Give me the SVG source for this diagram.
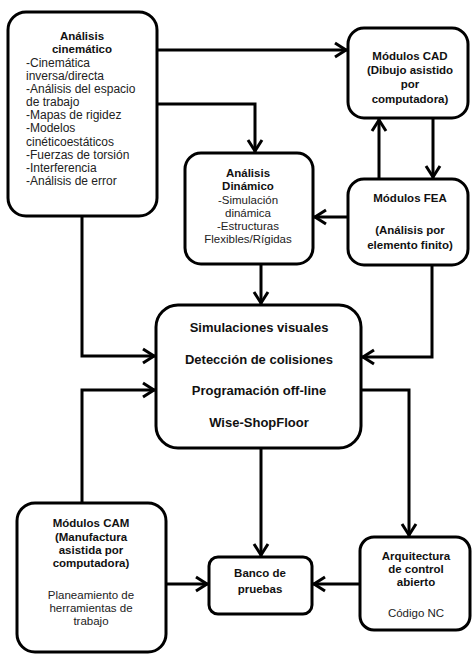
<svg xmlns="http://www.w3.org/2000/svg" width="472" height="656" viewBox="0 0 472 656">
<style>
.box{fill:#fff;stroke:#000;stroke-width:3}
.t{font-family:"Liberation Sans",Arial,sans-serif;font-size:11.5px;fill:#222;text-anchor:middle}
.tl{font-family:"Liberation Sans",Arial,sans-serif;font-size:12px;fill:#222}
.b{font-weight:bold;fill:#111}
.big{font-family:"Liberation Sans",Arial,sans-serif;font-size:13px;font-weight:bold;fill:#111;text-anchor:middle}
.c{fill:none;stroke:#000;stroke-width:3;stroke-linejoin:miter}
</style>
<defs>
<marker id="ah" viewBox="-14 -9 16 18" markerWidth="16" markerHeight="18" refX="0" refY="0" orient="auto" markerUnits="userSpaceOnUse">
<path d="M-12,-7 L-1,0 L-12,7" fill="none" stroke="#000" stroke-width="3"/>
</marker>
</defs>
<rect width="472" height="656" fill="#fff"/>
<g id="connectors">
<path class="c" d="M157,50 H347" marker-end="url(#ah)"/>
<path class="c" d="M157,104 H255 V152" marker-end="url(#ah)"/>
<path class="c" d="M82,216 V356 H155" marker-end="url(#ah)"/>
<path class="c" d="M82,503 V390 H155" marker-end="url(#ah)"/>
<path class="c" d="M379,179 V119" marker-end="url(#ah)"/>
<path class="c" d="M433,118 V178" marker-end="url(#ah)"/>
<path class="c" d="M348,217 H314" marker-end="url(#ah)"/>
<path class="c" d="M432,265 V357 H362" marker-end="url(#ah)"/>
<path class="c" d="M261,264 V304" marker-end="url(#ah)"/>
<path class="c" d="M361,390 H409 V536" marker-end="url(#ah)"/>
<path class="c" d="M261,448 V556" marker-end="url(#ah)"/>
<path class="c" d="M360,584 H313" marker-end="url(#ah)"/>
<path class="c" d="M166,584 H208" marker-end="url(#ah)"/>
</g>
<g id="cinematico">
<rect class="box" x="8" y="12" width="149" height="204" rx="18"/>
<text class="t b" x="82" y="40">Análisis</text>
<text class="t b" x="82" y="53">cinemático</text>
<text class="tl" x="26" y="67">-Cinemática</text>
<text class="tl" x="26" y="80">inversa/directa</text>
<text class="tl" x="26" y="93">-Análisis del espacio</text>
<text class="tl" x="26" y="106">de trabajo</text>
<text class="tl" x="26" y="119">-Mapas de rigidez</text>
<text class="tl" x="26" y="132">-Modelos</text>
<text class="tl" x="26" y="146">cinéticoestáticos</text>
<text class="tl" x="26" y="159">-Fuerzas de torsión</text>
<text class="tl" x="26" y="172">-Interferencia</text>
<text class="tl" x="26" y="185">-Análisis de error</text>
</g>
<g id="cad">
<rect class="box" x="348" y="28" width="120" height="90" rx="16"/>
<text class="t b" x="410" y="60">Módulos CAD</text>
<text class="t b" x="410" y="74">(Dibujo asistido</text>
<text class="t b" x="410" y="88">por</text>
<text class="t b" x="410" y="103">computadora)</text>
</g>
<g id="dinamico">
<rect class="box" x="185" y="153" width="128" height="111" rx="16"/>
<text class="t b" x="248" y="177">Análisis</text>
<text class="t b" x="248" y="190">Dinámico</text>
<text class="t" x="248" y="204">-Simulación</text>
<text class="t" x="248" y="217">dinámica</text>
<text class="t" x="248" y="230">-Estructuras</text>
<text class="t" x="248" y="243">Flexibles/Rígidas</text>
</g>
<g id="fea">
<rect class="box" x="348" y="179" width="120" height="86" rx="16"/>
<text class="t b" x="410" y="202">Módulos FEA</text>
<text class="t b" x="410" y="234">(Análisis por</text>
<text class="t b" x="410" y="249">elemento finito)</text>
</g>
<g id="central">
<rect class="box" x="156" y="305" width="205" height="143" rx="22"/>
<text class="big" x="259" y="332">Simulaciones visuales</text>
<text class="big" x="259" y="364">Detección de colisiones</text>
<text class="big" x="259" y="395">Programación off-line</text>
<text class="big" x="259" y="427">Wise-ShopFloor</text>
</g>
<g id="cam">
<rect class="box" x="17" y="503" width="149" height="149" rx="18"/>
<text class="t b" x="91" y="527">Módulos CAM</text>
<text class="t b" x="91" y="541">(Manufactura</text>
<text class="t b" x="91" y="554">asistida por</text>
<text class="t b" x="91" y="567">computadora)</text>
<text class="t" x="91" y="599">Planeamiento de</text>
<text class="t" x="91" y="612">herramientas de</text>
<text class="t" x="91" y="625">trabajo</text>
</g>
<g id="banco">
<rect class="box" x="209" y="557" width="103" height="57" rx="9"/>
<text class="t b" x="260" y="577">Banco de</text>
<text class="t b" x="260" y="593">pruebas</text>
</g>
<g id="arquitectura">
<rect class="box" x="360" y="537" width="110" height="93" rx="14"/>
<text class="t b" x="416" y="560">Arquitectura</text>
<text class="t b" x="416" y="573">de control</text>
<text class="t b" x="416" y="586">abierto</text>
<text class="t" x="416" y="617">Código NC</text>
</g>
</svg>
